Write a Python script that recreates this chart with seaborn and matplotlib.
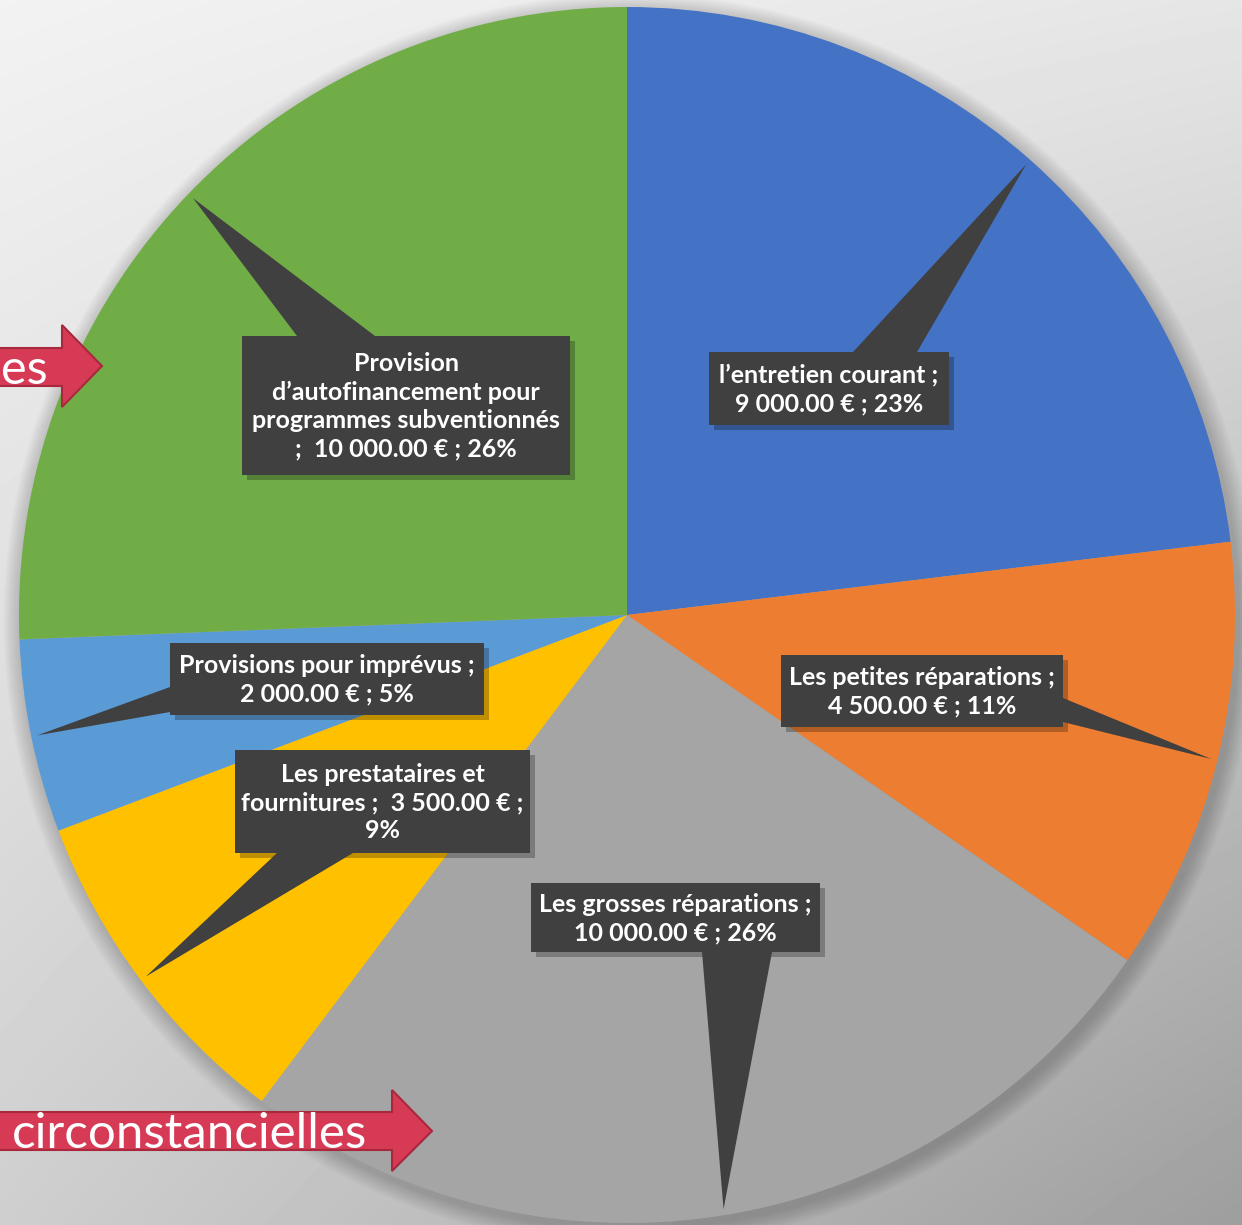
import numpy as np
import matplotlib
matplotlib.use("Agg")
import matplotlib.pyplot as plt
import seaborn as sns
from matplotlib.patches import Rectangle, Polygon, Circle

sns.set_theme(style="white")
plt.rcParams['font.family'] = ['Lato', 'DejaVu Sans']

# taille de l'image en pixels
W, H = 1242, 1225

# données du camembert (sens horaire depuis midi)
categories = [
    "l’entretien courant",
    "Les petites réparations",
    "Les grosses réparations",
    "Les prestataires et\nfournitures",
    "Provisions pour imprévus",
    "Provision\nd’autofinancement pour\nprogrammes subventionnés\n",
]
values = [9000, 4500, 10000, 3500, 2000, 10000]
pct_shown = [23, 11, 26, 9, 5, 26]

colors = ["#4472C4", "#ED7D31", "#A5A5A5", "#FFC000", "#5B9BD5", "#70AD47"]
label_fmt = [
    "{n} ;\n{v} € ; {p}%",
    "{n} ;\n{v} € ; {p}%",
    "{n} ;\n{v} € ; {p}%",
    "{n} ;  {v} € ;\n{p}%",
    "{n} ;\n{v} € ; {p}%",
    "{n};  {v} € ; {p}%",
]

# mise en page des bulles (pixels, origine en haut à gauche)
boxes = [
    (709, 352, 949, 425),
    (781, 655, 1063, 727),
    (531, 883, 820, 952),
    (235, 750, 530, 853),
    (170, 643, 484, 715),
    (242, 336, 570, 475),
]
bases = [
    ((853, 352), (917, 352)),
    ((1063, 698), (1063, 722)),
    ((702, 952), (772, 952)),
    ((277, 853), (353, 853)),
    ((170, 687), (170, 712)),
    ((297, 336), (375, 336)),
]

CX, CY, R = 627, 615, 608


def px(x, y):
    """pixels -> coordonnées des axes (y vers le haut)"""
    return (x, H - y)


fig = plt.figure(figsize=(W / 100, H / 100), dpi=100)
ax = fig.add_axes([0, 0, 1, 1])

# fond dégradé gris
xx, yy = np.meshgrid(np.linspace(0, 1, 300), np.linspace(0, 1, 300))
bg = 0.95 - 0.05 * xx - 0.14 * yy - 0.14 * xx * yy
ax.imshow(bg, cmap="gray", vmin=0, vmax=1, extent=(0, W, 0, H),
          origin="upper", zorder=0, interpolation="bicubic")

# ombre du camembert
for i in range(10):
    ax.add_patch(Circle(px(CX + 3, CY + 5), R + 2 + i * 1.8, color="black",
                        alpha=0.02, lw=0, zorder=1))

wedges, _ = ax.pie(values, colors=colors, startangle=90, counterclock=False,
                   center=px(CX, CY), radius=R, wedgeprops=dict(linewidth=0))
for w in wedges:
    w.set_zorder(2)

# bulles d'étiquettes
for i, w in enumerate(wedges):
    theta = np.deg2rad((w.theta1 + w.theta2) / 2)
    tip = (CX + 0.99 * R * np.cos(theta), H - CY + 0.99 * R * np.sin(theta))
    x0, y0, x1, y1 = boxes[i]
    b1, b2 = bases[i]
    ax.add_patch(Rectangle(px(x0 + 5, y1 + 5), x1 - x0, y1 - y0,
                           color="black", alpha=0.25, lw=0, zorder=3))
    ax.add_patch(Polygon([tip, px(*b1), px(*b2)], closed=True,
                         color="#404040", lw=0, zorder=4))
    ax.add_patch(Rectangle(px(x0, y1), x1 - x0, y1 - y0,
                           color="#404040", lw=0, zorder=4))
    val = f"{values[i]:,.2f}".replace(",", " ")
    txt = label_fmt[i].format(n=categories[i], v=val, p=pct_shown[i])
    ax.text(*px((x0 + x1) / 2, (y0 + y1) / 2 + 1), txt, color="white",
            fontsize=18, fontweight="bold", ha="center", va="center",
            linespacing=1.28, zorder=5)

# flèches rouges
arrow1 = [(-5, 348), (62, 348), (62, 325), (102, 366), (62, 407), (62, 386), (-5, 386)]
arrow2 = [(-5, 1112), (392, 1112), (392, 1090), (432, 1131), (392, 1171), (392, 1150), (-5, 1150)]
for arr in (arrow1, arrow2):
    ax.add_patch(Polygon([px(x, y) for x, y in arr], closed=True,
                         facecolor="#D63A55", edgecolor="#A8283E", lw=1.5, zorder=6))
ax.text(*px(1, 384), "es", color="white", fontsize=35, fontweight="normal",
        ha="left", va="baseline", zorder=7)
ax.text(*px(12, 1148), "circonstancielles", color="white", fontsize=35.5,
        fontweight="normal", ha="left", va="baseline", zorder=7)

ax.set_xlim(0, W)
ax.set_ylim(0, H)
ax.set_aspect("equal")
ax.axis("off")

fig.savefig("out.png", dpi=100)
